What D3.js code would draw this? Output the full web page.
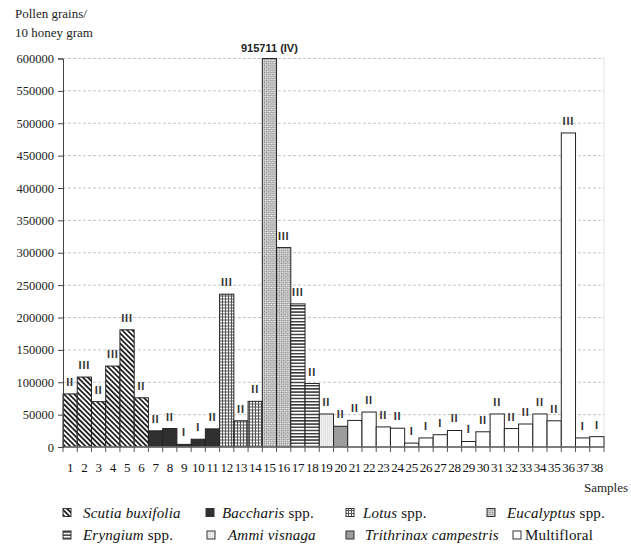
<!DOCTYPE html>
<html>
<head>
<meta charset="utf-8">
<script src="https://cdn.jsdelivr.net/npm/d3@7"></script>
<style>
  body { margin: 0; background: #fff; }
</style>
</head>
<body>
<div id="chart"></div>
<script>
// Dữ liệu
const samples = ["1","2","3","4","5","6","7","8","9","10","11","12","13","14","15","16","17","18","19",
                 "20","21","22","23","24","25","26","27","28","29","30","31","32","33","34","35","36","37","38"];
const pollen = [82000, 108000, 70000, 125000, 181000, 76000, 25000, 28500, 4000, 12000, 28000,
                236000, 40500, 70500, 915711, 308000, 221000, 98000, 51000, 32000, 41000, 54000,
                31000, 29000, 6000, 14000, 19000, 25500, 8500, 23500, 51000, 28500, 35500, 51000,
                40500, 485000, 14000, 16000];
const classes = ["II","III","II","III","III","II","II","II","I","I","II","III","II","II","IV","III",
                 "III","II","II","II","II","II","II","II","I","I","I","II","I","II","II","II","II",
                 "II","II","III","I","I"];
const origin = ["scutia","scutia","scutia","scutia","scutia","scutia","baccharis","baccharis","baccharis",
                "baccharis","baccharis","lotus","lotus","lotus","eucalyptus","eucalyptus","eryngium",
                "eryngium","ammi","trithrinax","multi","multi","multi","multi","multi","multi","multi",
                "multi","multi","multi","multi","multi","multi","multi","multi","multi","multi","multi"];
const yTicks = [0, 50000, 100000, 150000, 200000, 250000, 300000, 350000, 400000, 450000, 500000, 550000, 600000];
const legendKeys = ["scutia", "baccharis", "lotus", "eucalyptus", "eryngium", "ammi", "trithrinax", "multi"];
const legendNames = [["Scutia buxifolia", ""], ["Baccharis", " spp."], ["Lotus", " spp."], ["Eucalyptus", " spp."],
                     ["Eryngium", " spp."], ["Ammi visnaga", ""], ["Trithrinax campestris", ""], ["", "Multifloral"]];

const SERIF = "'Liberation Serif', 'Times New Roman', serif";
const SANS = "'Liberation Sans', Arial, sans-serif";

const W = 631, H = 546;
const margin = { top: 58.5, right: 27, bottom: 99, left: 63 };
const width = W - margin.left - margin.right,
      height = H - margin.top - margin.bottom;

const root = d3.select("#chart").append("svg")
    .attr("width", W).attr("height", H);

// Mẫu tô (patterns)
const defs = root.append("defs");
function pat(id, w, h, tf) {
    const p = defs.append("pattern").attr("id", id)
        .attr("patternUnits", "userSpaceOnUse").attr("width", w).attr("height", h);
    if (tf) p.attr("patternTransform", tf);
    p.append("rect").attr("width", w).attr("height", h).attr("fill", "#fff");
    return p;
}
pat("p-scutia", 3.6, 4, "rotate(-45)").append("rect").attr("width", 1.8).attr("height", 4).attr("fill", "#222");
const pl = pat("p-lotus", 3, 3);
pl.append("rect").attr("width", 3).attr("height", 1).attr("fill", "#555");
pl.append("rect").attr("width", 1).attr("height", 3).attr("fill", "#555");
const pe = pat("p-eucalyptus", 3, 3, "rotate(45)");
pe.append("rect").attr("width", 1.5).attr("height", 1.5).attr("fill", "#7a7a7a");
pe.append("rect").attr("x", 1.5).attr("y", 1.5).attr("width", 1.5).attr("height", 1.5).attr("fill", "#7a7a7a");
pat("p-eryngium", 3.2, 3.2).append("rect").attr("width", 3.2).attr("height", 1.5).attr("fill", "#3a3a3a");
const pa = pat("p-ammi", 2, 2);
pa.select("rect").attr("fill", "#f0f0f0");
pa.append("rect").attr("width", 1).attr("height", 1).attr("fill", "#d0d0d0");

const fills = {
    scutia: "url(#p-scutia)", baccharis: "#303030", lotus: "url(#p-lotus)",
    eucalyptus: "url(#p-eucalyptus)", eryngium: "url(#p-eryngium)", ammi: "url(#p-ammi)",
    trithrinax: "#9c9c9c", multi: "#fff"
};

const svg = root.append("g").attr("transform", `translate(${margin.left},${margin.top})`);

const x = d3.scaleBand().domain(samples).range([0, width]).padding(0);
const y = d3.scaleLinear().domain([0, 600000]).range([height, 0]);

// Lưới ngang
svg.append("g").selectAll("line")
    .data(yTicks.filter(d => d > 0))
    .enter().append("line")
    .attr("x1", 0).attr("x2", width)
    .attr("y1", d => y(d)).attr("y2", d => y(d))
    .attr("stroke", "#c4c4c4").attr("stroke-dasharray", "3,2");
svg.append("line").attr("x1", width).attr("x2", width).attr("y1", 0).attr("y2", height)
    .attr("stroke", "#e2e2e2");

const data = samples.map((s, i) => ({ s, v: pollen[i], c: classes[i], o: origin[i] }));

// Thanh bar
svg.selectAll(".bar").data(data).enter().append("rect")
    .attr("class", "bar")
    .attr("x", d => x(d.s))
    .attr("y", d => y(Math.min(d.v, 600000)))
    .attr("width", x.bandwidth())
    .attr("height", d => height - y(Math.min(d.v, 600000)))
    .attr("fill", d => fills[d.o])
    .attr("stroke", "#222").attr("stroke-width", 1);

// Nhãn lớp
svg.selectAll(".cls").data(data.filter(d => d.v <= 600000)).enter().append("text")
    .attr("class", "cls")
    .attr("x", d => x(d.s) + x.bandwidth() / 2)
    .attr("y", d => y(d.v) - 8)
    .attr("text-anchor", "middle")
    .style("font-family", SANS).style("font-weight", "bold").style("font-size", "11px")
    .style("letter-spacing", "0.8px").attr("fill", "#333")
    .text(d => d.c);
data.filter(d => d.v > 600000).forEach(d => {
    svg.append("text")
        .attr("x", x(d.s) + x.bandwidth() / 2).attr("y", -7)
        .attr("text-anchor", "middle")
        .style("font-family", SANS).style("font-weight", "bold").style("font-size", "11px")
        .attr("fill", "#222")
        .text(`${d.v} (${d.c})`);
});

// Trục X
const gx = svg.append("g").attr("transform", `translate(0,${height})`);
gx.append("line").attr("x1", 0).attr("x2", width).attr("stroke", "#777").attr("stroke-width", 1.5);
gx.selectAll(".tk").data(samples.concat(["end"])).enter().append("line")
    .attr("x1", (d, i) => i * x.step()).attr("x2", (d, i) => i * x.step())
    .attr("y1", 0).attr("y2", 5).attr("stroke", "#555");
gx.selectAll(".lab").data(samples).enter().append("text")
    .attr("x", d => x(d) + x.bandwidth() / 2).attr("y", 25)
    .attr("text-anchor", "middle")
    .style("font-family", SERIF).style("font-size", "13px").attr("fill", "#111")
    .style("letter-spacing", "-0.3px")
    .text(d => d);

// Trục Y
const gy = svg.append("g").call(d3.axisLeft(y).tickValues(yTicks).tickSize(5).tickFormat(d3.format("d")));
gy.attr("font-family", null);
gy.select(".domain").attr("stroke", "#444");
gy.selectAll(".tick line").attr("stroke", "#444");
gy.selectAll(".tick text")
    .style("font-family", SERIF).style("font-size", "12.5px").attr("fill", "#222")
    .attr("x", -9);

// Tiêu đề trục
function serifText(xx, yy, s, anchor) {
    return root.append("text").attr("x", xx).attr("y", yy)
        .attr("text-anchor", anchor || "start")
        .style("font-family", SERIF).style("font-size", "13px").attr("fill", "#222").text(s);
}
serifText(15, 18, "Pollen grains/");
serifText(15, 37, "10 honey gram");
serifText(628, 492, "Samples", "end");

// Chú giải
const legX = [63, 206, 346, 487, 63, 207, 346, 513];
const legTx = [20, 16, 17, 20, 20, 21, 19, 12];
legendKeys.forEach((k, i) => {
    const gx0 = legX[i], gy0 = i < 4 ? 517.5 : 540;
    const g = root.append("g");
    g.append("rect").attr("x", gx0).attr("y", gy0 - 9).attr("width", 8).attr("height", 8)
        .attr("fill", fills[k]).attr("stroke", "#333").attr("stroke-width", 1);
    const t = g.append("text").attr("x", gx0 + legTx[i]).attr("y", gy0)
        .style("font-family", SERIF).style("font-size", "15px").attr("fill", "#111")
        .style("letter-spacing", "0.2px");
    t.append("tspan").style("font-style", "italic").text(legendNames[i][0]);
    t.append("tspan").text(legendNames[i][1]);
});
</script>
</body>
</html>
